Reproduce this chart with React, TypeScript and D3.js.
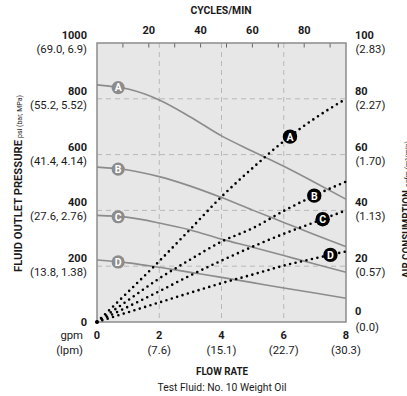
import React from "react";
import * as d3 from "d3";

const flowTicks = [0, 2, 4, 6, 8];
const flowLpm = ["", "(7.6)", "(15.1)", "(22.7)", "(30.3)"];
const cycleLabels = [20, 40, 60, 80];
const cycleMinorTicks = [10, 20, 30, 40, 50, 60, 70, 80, 90];
const psiTicks = [1000, 800, 600, 400, 200];
const psiMetric = ["(69.0, 6.9)", "(55.2, 5.52)", "(41.4, 4.14)", "(27.6, 2.76)", "(13.8, 1.38)"];
const scfmTicks = [100, 80, 60, 40, 20, 0];
const scfmMetric = ["(2.83)", "(2.27)", "(1.70)", "(1.13)", "(0.57)", "(0.0)"];
const gridFlow = [2, 4, 6];
const gridPsi = [200, 400, 600, 800];

const gpm = [0, 1, 2, 3, 4, 5, 6, 7, 8];
const pressureA = [850, 835, 796, 735, 667, 612, 558, 500, 440];
const pressureB = [555, 545, 521, 487, 446, 401, 357, 313, 270];
const pressureC = [382, 375, 355, 330, 297, 268, 238, 208, 178];
const pressureD = [222, 212, 196, 178, 160, 141, 122, 104, 85];
const airA = [0, 10.8, 21.8, 33.3, 44.9, 55.2, 64.8, 73, 80];
const airB = [0, 7.8, 15.6, 22.4, 28.8, 33.6, 39.8, 45.4, 50.3];
const airC = [0, 5.5, 11, 16.7, 22, 27, 31.6, 35.8, 40];
const airD = [0, 3.5, 7, 10.5, 13.9, 17, 20.2, 22.8, 25.3];
const seriesNames = ["A", "B", "C", "D"];
const pressureLabelAt = [0.68, 0.68, 0.68, 0.68];
const airLabelAt = [6.2, 6.98, 7.25, 7.5];

const L = 97, R = 346, T = 43, B = 322;
const FONT = "Roboto, 'Liberation Sans', sans-serif";
const INK = "#1a1a1a";
const GRAY = "#8c8c8c";

export default function App() {
  const x = d3.scaleLinear().domain([0, 8]).range([L, R]);
  const yP = d3.scaleLinear().domain([0, 1000]).range([B, T]);
  const yA = d3.scaleLinear().domain([0, 100]).range([B, T]);
  const xC = d3.scaleLinear().domain([0, ((R - L) / 25.9) * 10]).range([L, R]);

  const pressures = [pressureA, pressureB, pressureC, pressureD];
  const airs = [airA, airB, airC, airD];

  const lineP = (vals: number[]) =>
    d3.line<number>().x((_, i) => x(gpm[i])).y((v) => yP(v)).curve(d3.curveMonotoneX)(vals) || "";
  const lineA = (vals: number[]) =>
    d3.line<number>().x((_, i) => x(gpm[i])).y((v) => yA(v)).curve(d3.curveMonotoneX)(vals) || "";
  const interp = (vals: number[], g: number) => d3.scaleLinear().domain(gpm).range(vals)(g);

  return (
    <svg
      width={407}
      height={396}
      style={{ position: "absolute", left: 0, top: 0, background: "#fff" }}
      fontFamily={FONT}
    >
      {/* plot background */}
      <rect x={L} y={T} width={R - L} height={B - T} fill="#e7e7e7" />
      {/* grid */}
      {gridFlow.map((g) => (
        <line key={"gx" + g} x1={x(g)} x2={x(g)} y1={T} y2={B} stroke="#b8b8b8" strokeWidth={1} strokeDasharray="5,4" />
      ))}
      {gridPsi.map((p) => (
        <line key={"gy" + p} x1={L} x2={R} y1={yP(p)} y2={yP(p)} stroke="#b8b8b8" strokeWidth={1} strokeDasharray="5,4" />
      ))}
      {/* top ticks */}
      {cycleMinorTicks.map((c) => (
        <line key={"ct" + c} x1={xC(c)} x2={xC(c)} y1={T} y2={T + 4.5} stroke="#666" strokeWidth={1} />
      ))}
      <rect x={L} y={T} width={R - L} height={B - T} fill="none" stroke={GRAY} strokeWidth={1.5} />

      {/* pressure curves */}
      {pressures.map((vals, i) => (
        <path key={"p" + i} d={lineP(vals)} fill="none" stroke={GRAY} strokeWidth={1.6} />
      ))}
      {/* air curves */}
      {airs.map((vals, i) => (
        <path
          key={"a" + i}
          d={lineA(vals)}
          fill="none"
          stroke="#000"
          strokeWidth={2.6}
          strokeLinecap="round"
          strokeDasharray="0,5.6"
        />
      ))}
      <circle cx={x(0)} cy={yA(0)} r={2} fill="#000" />

      {/* labels on pressure curves */}
      {pressures.map((vals, i) => {
        const g = pressureLabelAt[i];
        const cx = x(g), cy = yP(interp(vals, g));
        return (
          <g key={"pl" + i}>
            <circle cx={cx} cy={cy} r={6.6} fill={GRAY} />
            <text x={cx} y={cy + 3.8} textAnchor="middle" fontSize={10.5} fontWeight="bold" fill="#fff">
              {seriesNames[i]}
            </text>
          </g>
        );
      })}
      {airs.map((vals, i) => {
        const g = airLabelAt[i];
        const cx = x(g), cy = yA(interp(vals, g));
        return (
          <g key={"al" + i}>
            <circle cx={cx} cy={cy} r={7.2} fill="#000" />
            <text x={cx} y={cy + 3.9} textAnchor="middle" fontSize={10.5} fontWeight="bold" fill="#fff">
              {seriesNames[i]}
            </text>
          </g>
        );
      })}

      {/* top axis */}
      <text x={221} y={14} textAnchor="middle" fontSize={10.5} fontWeight="bold" fill={INK} textLength={61} lengthAdjust="spacingAndGlyphs">
        CYCLES/MIN
      </text>
      {cycleLabels.map((c) => (
        <text key={"cl" + c} x={xC(c)} y={33.5} textAnchor="middle" fontSize={11} fontWeight="bold" fill={INK}>
          {c}
        </text>
      ))}

      {/* left axis */}
      {psiTicks.map((p, i) => (
        <g key={"lp" + p}>
          <text x={87} y={yP(p) - 4} textAnchor="end" fontSize={11} fontWeight="bold" fill={INK}>
            {p}
          </text>
          <text x={87} y={yP(p) + 10} textAnchor="end" fontSize={11.3} fill={INK}>
            {psiMetric[i]}
          </text>
        </g>
      ))}
      <text x={87} y={yP(0) + 3.5} textAnchor="end" fontSize={11} fontWeight="bold" fill={INK}>
        0
      </text>

      {/* right axis */}
      {scfmTicks.map((s, i) => {
        const isZero = s === 0;
        return (
          <g key={"rs" + s}>
            <text x={355} y={yA(s) + (isZero ? -7 : -4)} fontSize={11} fontWeight="bold" fill={INK}>
              {s}
            </text>
            <text x={355.5} y={yA(s) + (isZero ? 8.5 : 10)} fontSize={11.3} fill={INK}>
              {scfmMetric[i]}
            </text>
          </g>
        );
      })}

      {/* bottom axis */}
      {flowTicks.map((f, i) => (
        <g key={"bf" + f}>
          <text x={x(f)} y={338.5} textAnchor="middle" fontSize={11} fontWeight="bold" fill={INK}>
            {f}
          </text>
          {flowLpm[i] && (
            <text x={x(f)} y={353.5} textAnchor="middle" fontSize={11.3} fill={INK}>
              {flowLpm[i]}
            </text>
          )}
        </g>
      ))}
      <text x={83} y={338.5} textAnchor="end" fontSize={11.3} fill={INK}>
        gpm
      </text>
      <text x={83} y={353.5} textAnchor="end" fontSize={11.3} fill={INK}>
        (lpm)
      </text>
      <text x={222} y={375} textAnchor="middle" fontSize={10.5} fontWeight="bold" fill={INK} textLength={52} lengthAdjust="spacingAndGlyphs">
        FLOW RATE
      </text>
      <text x={222} y={391} textAnchor="middle" fontSize={11} fill={INK} textLength={129} lengthAdjust="spacingAndGlyphs">
        Test Fluid: No. 10 Weight Oil
      </text>

      {/* left title */}
      <g transform="translate(22,272) rotate(-90)">
        <text x={0} y={0} fontSize={10.5} fontWeight="bold" fill={INK} textLength={132} lengthAdjust="spacingAndGlyphs">
          FLUID OUTLET PRESSURE
        </text>
        <text x={134} y={0} fontSize={7} fill={INK} textLength={43} lengthAdjust="spacingAndGlyphs">
          psi (bar, MPa)
        </text>
      </g>
      {/* right title */}
      <g transform="translate(410,278) rotate(-90)">
        <text x={0} y={0} fontSize={10.5} fontWeight="bold" fill={INK} textLength={88} lengthAdjust="spacingAndGlyphs">
          AIR CONSUMPTION
        </text>
        <text x={91} y={0} fontSize={7} fill={INK} textLength={46} lengthAdjust="spacingAndGlyphs">
          scfm (m³/min)
        </text>
      </g>
    </svg>
  );
}
